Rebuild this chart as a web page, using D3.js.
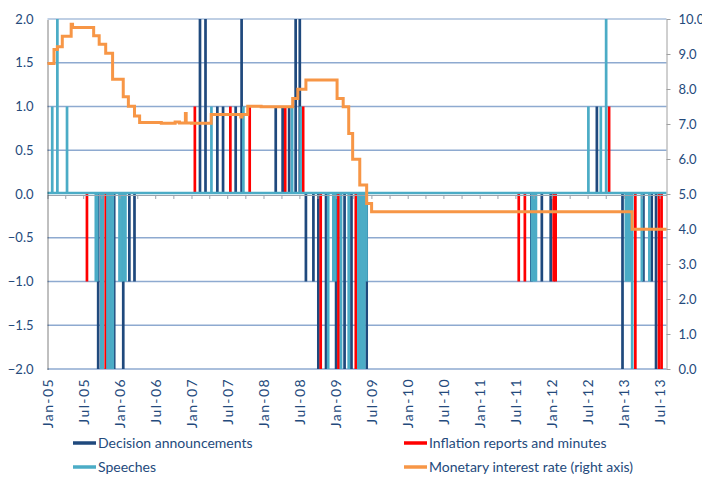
<!DOCTYPE html>
<html>
<head>
<meta charset="utf-8">
<script src="https://cdn.jsdelivr.net/npm/d3@7"></script>
<style>
  body { margin: 0; background: #fff; }
  svg text { font-family: Lato, "DejaVu Sans", sans-serif; fill: #244a7c; }
</style>
</head>
<body>
<svg width="702" height="477"></svg>
<script>
// Decision announcements (dark blue)
const decisionDates = ["2005-09-15","2005-11-16","2005-12-05","2006-01-20","2006-02-20","2006-03-18",
  "2007-02-13","2007-03-13","2007-05-12","2007-06-10","2007-08-13","2007-09-12",
  "2008-03-03","2008-04-07","2008-05-10","2008-06-12","2008-07-03",
  "2008-08-03","2008-09-10","2008-10-05","2008-11-13","2009-01-03","2009-02-15","2009-03-22","2009-06-07",
  "2011-09-20","2011-11-12","2011-12-27","2012-08-17",
  "2012-12-25","2013-04-10","2013-05-22","2013-06-13"];
const decisionValues = [-2,-2,-2,-2,-1,-1,
  2,2,1,1,1,2,
  1,1,1,2,2,
  -1,-1,-2,-2,-2,-2,-2,-2,
  -1,-1,-1,1,
  -2,-1,-1,-2];

// Inflation reports and minutes (red)
const inflationDates = ["2005-07-20","2005-10-23","2007-01-18","2007-07-17","2007-10-23",
  "2008-04-20","2008-07-20","2008-10-17","2009-01-15","2009-04-13",
  "2011-07-18","2011-08-18","2012-01-11","2012-01-21","2012-10-18",
  "2013-02-28","2013-06-28","2013-07-11"];
const inflationValues = [-1,-2,1,1,1,
  1,1,-2,-2,-2,
  -1,-1,-1,-1,1,
  -2,-2,-2];

// Speeches (light blue)
const speechDates = ["2005-01-25","2005-02-20","2005-04-10",
  "2005-09-03","2005-09-10","2005-10-01","2005-10-08","2005-11-01","2005-11-11","2005-11-21","2005-11-28",
  "2006-01-01","2006-01-11","2006-01-21","2006-01-31",
  "2007-04-12","2007-09-21","2008-05-25","2008-07-07",
  "2008-11-24","2008-12-20","2008-12-30","2009-01-28","2009-03-08",
  "2009-04-26","2009-05-06","2009-05-16","2009-05-26","2009-06-06",
  "2011-09-23","2011-10-03","2011-10-13",
  "2012-07-05","2012-09-06","2012-10-03",
  "2013-01-11","2013-01-21","2013-01-31","2013-02-12","2013-04-02","2013-05-10"];
const speechValues = [1,2,1,
  -1,-1,-2,-2,-2,-2,-2,-2,
  -1,-1,-1,-1,
  1,1,1,1,
  -2,-1,-1,-2,-2,
  -2,-2,-2,-2,-1,
  -1,-1,-1,
  1,1,2,
  -1,-1,-1,-2,-1,-1];

// Monetary interest rate (right axis), value from each date onwards
const rateDates = ["2005-01-01","2005-02-03","2005-02-20","2005-03-17","2005-05-01","2005-05-08",
  "2005-08-23","2005-09-20","2005-10-23","2005-11-27","2006-01-20","2006-02-15","2006-03-18",
  "2006-04-13","2006-08-01","2006-10-10","2006-11-01","2006-12-01","2006-12-05","2007-01-01",
  "2007-04-11","2007-09-08","2007-09-14","2007-10-13","2007-12-20",
  "2008-05-28","2008-06-23","2008-08-03","2009-01-08","2009-02-08","2009-03-08","2009-03-28",
  "2009-05-03","2009-06-07","2009-07-02","2013-02-12","2013-08-05"];
const rateValues = [8.73,9.13,9.21,9.51,9.85,9.76,
  9.52,9.28,9.02,8.28,7.78,7.51,7.23,
  7.04,7.02,7.06,7.03,7.3,7.03,7.02,
  7.27,7.2,7.27,7.51,7.49,
  7.73,7.99,8.26,7.73,7.49,6.73,5.99,
  5.26,4.73,4.49,3.99,3.99];

const leftTicks = [-2,-1.5,-1,-0.5,0,0.5,1,1.5,2];
const rightTicks = [0,1,2,3,4,5,6,7,8,9,10];
const xLabelDates = ["2005-01-01","2005-07-01","2006-01-01","2006-07-01","2007-01-01","2007-07-01",
  "2008-01-01","2008-07-01","2009-01-01","2009-07-01","2010-01-01","2010-07-01","2011-01-01",
  "2011-07-01","2012-01-01","2012-07-01","2013-01-01","2013-07-01"];

const parse = d3.timeParse("%Y-%m-%d");
const svg = d3.select("svg");
const plotL = 47.5, plotR = 666.5, plotT = 19, plotB = 369;

const x = d3.scaleTime().domain([parse("2005-01-01"), parse("2013-08-05")]).range([plotL, plotR]);
const y = d3.scaleLinear().domain([-2, 2]).range([plotB, plotT]);
const y2 = d3.scaleLinear().domain([0, 10]).range([plotB, plotT]);

// gridlines
svg.append("g").selectAll("line")
  .data(leftTicks.filter(d => d !== 0))
  .enter().append("line")
  .attr("x1", plotL).attr("x2", plotR)
  .attr("y1", d => y(d)).attr("y2", d => y(d))
  .attr("stroke", d => d === 2 ? "#aabfdb" : "#8eaad0")
  .attr("stroke-width", 1.3);

// bars
const barW = 2.7;
function bars(dates, values, color) {
  svg.append("g").selectAll("rect")
    .data(d3.zip(dates, values))
    .enter().append("rect")
    .attr("x", d => x(parse(d[0])) - barW / 2)
    .attr("width", barW)
    .attr("y", d => y(Math.max(0, d[1])))
    .attr("height", d => Math.abs(y(d[1]) - y(0)))
    .attr("fill", color);
}
bars(decisionDates, decisionValues, "#1f497d");
bars(inflationDates, inflationValues, "#ff0000");
bars(speechDates, speechValues, "#4bacc6");

// zero axis with quarterly ticks
const xAxis0 = svg.append("g")
  .attr("transform", `translate(0,${y(0) + 1})`)
  .call(d3.axisBottom(x).ticks(d3.timeMonth.every(3)).tickSize(4).tickSizeOuter(0).tickFormat(""));
xAxis0.select(".domain").attr("stroke", "#9aa3ad");
xAxis0.selectAll(".tick line").attr("stroke", "#9aa3ad");
svg.append("line")
  .attr("x1", plotL).attr("x2", plotR)
  .attr("y1", y(0) - 1).attr("y2", y(0) - 1)
  .attr("stroke", "#4bacc6").attr("stroke-width", 2.5);

// bottom date labels
const xAxis = svg.append("g")
  .attr("transform", `translate(0,${plotB})`)
  .call(d3.axisBottom(x).tickValues(xLabelDates.map(parse)).tickSize(0).tickFormat(d3.timeFormat("%b-%y")));
xAxis.select(".domain").remove();
xAxis.selectAll("text")
  .attr("transform", "rotate(-90)")
  .attr("x", -9).attr("y", 0).attr("dy", "0.35em")
  .style("text-anchor", "end")
  .style("font-size", "14px")
  .style("letter-spacing", "1.4px");

// left axis
const yAxis = svg.append("g")
  .attr("transform", `translate(${plotL},0)`)
  .call(d3.axisLeft(y).tickValues(leftTicks).tickSize(0).tickPadding(14).tickFormat(d3.format(".1f")));
yAxis.select(".domain").attr("stroke", "#000").attr("stroke-dasharray", "1,1");
yAxis.selectAll("text").style("font-size", "13px");

// right axis
const yAxisR = svg.append("g")
  .attr("transform", `translate(${plotR},0)`)
  .call(d3.axisRight(y2).tickValues(rightTicks).tickSize(4).tickPadding(8).tickSizeOuter(0).tickFormat(d3.format(".1f")));
yAxisR.select(".domain").attr("stroke", "#a0a0a0");
yAxisR.selectAll(".tick line").attr("stroke", "#a0a0a0");
yAxisR.selectAll("text").style("font-size", "13px");

// interest rate line
const line = d3.line()
  .x(d => x(parse(d[0])))
  .y(d => y2(d[1]))
  .curve(d3.curveStepAfter);
svg.append("path")
  .datum(d3.zip(rateDates, rateValues))
  .attr("d", line)
  .attr("fill", "none")
  .attr("stroke", "#f79646")
  .attr("stroke-width", 3);

// legend
const legendItems = [
  {name: "Decision announcements", color: "#1f497d", lx: 73, ly: 443},
  {name: "Inflation reports and minutes", color: "#ff0000", lx: 404, ly: 443},
  {name: "Speeches", color: "#4bacc6", lx: 73, ly: 467},
  {name: "Monetary interest rate (right axis)", color: "#f79646", lx: 404, ly: 467}
];
const lg = svg.append("g").selectAll("g")
  .data(legendItems)
  .enter().append("g")
  .attr("transform", d => `translate(${d.lx},${d.ly})`);
lg.append("line")
  .attr("x1", 0).attr("x2", 23)
  .attr("stroke", d => d.color)
  .attr("stroke-width", 3.5);
lg.append("text")
  .attr("x", 25).attr("dy", "0.35em")
  .style("font-size", "14px")
  .text(d => d.name);
</script>
</body>
</html>
